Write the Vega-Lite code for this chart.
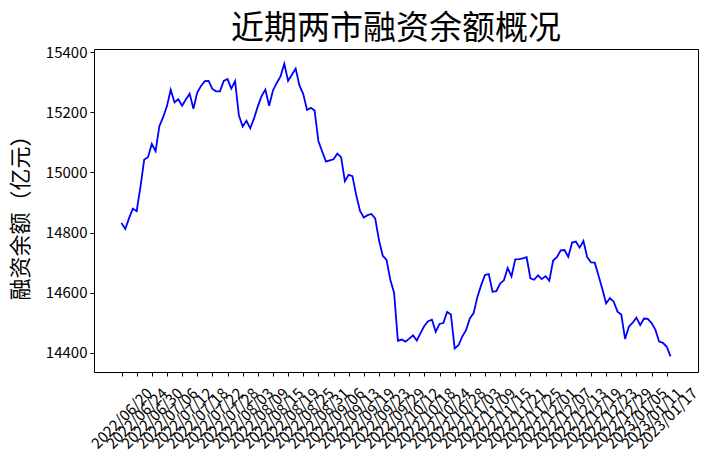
{
  "$schema": "https://vega.github.io/schema/vega-lite/v6.json",
  "width": 604,
  "height": 323,
  "autosize": {"type": "none"},
  "padding": {"left": 94, "top": 49, "right": 15, "bottom": 93},
  "background": "white",
  "title": {"text": "近期两市融资余额概况", "font": "Noto Sans CJK SC", "fontSize": 33, "fontWeight": "normal", "color": "black", "anchor": "middle", "offset": -1},
  "data": {"values": [
    {"date": "2022/06/20", "value": 14832},
    {"date": "2022/06/21", "value": 14812},
    {"date": "2022/06/22", "value": 14848},
    {"date": "2022/06/23", "value": 14880},
    {"date": "2022/06/24", "value": 14871},
    {"date": "2022/06/27", "value": 14951},
    {"date": "2022/06/28", "value": 15043},
    {"date": "2022/06/29", "value": 15051},
    {"date": "2022/06/30", "value": 15095},
    {"date": "2022/07/01", "value": 15071},
    {"date": "2022/07/04", "value": 15154},
    {"date": "2022/07/05", "value": 15184},
    {"date": "2022/07/06", "value": 15221},
    {"date": "2022/07/07", "value": 15275},
    {"date": "2022/07/08", "value": 15233},
    {"date": "2022/07/11", "value": 15244},
    {"date": "2022/07/12", "value": 15222},
    {"date": "2022/07/13", "value": 15243},
    {"date": "2022/07/14", "value": 15262},
    {"date": "2022/07/15", "value": 15212},
    {"date": "2022/07/18", "value": 15266},
    {"date": "2022/07/19", "value": 15288},
    {"date": "2022/07/20", "value": 15304},
    {"date": "2022/07/21", "value": 15305},
    {"date": "2022/07/22", "value": 15278},
    {"date": "2022/07/25", "value": 15270},
    {"date": "2022/07/26", "value": 15270},
    {"date": "2022/07/27", "value": 15305},
    {"date": "2022/07/28", "value": 15311},
    {"date": "2022/07/29", "value": 15279},
    {"date": "2022/08/01", "value": 15304},
    {"date": "2022/08/02", "value": 15190},
    {"date": "2022/08/03", "value": 15153},
    {"date": "2022/08/04", "value": 15172},
    {"date": "2022/08/05", "value": 15147},
    {"date": "2022/08/08", "value": 15180},
    {"date": "2022/08/09", "value": 15220},
    {"date": "2022/08/10", "value": 15254},
    {"date": "2022/08/11", "value": 15276},
    {"date": "2022/08/12", "value": 15222},
    {"date": "2022/08/15", "value": 15273},
    {"date": "2022/08/16", "value": 15298},
    {"date": "2022/08/17", "value": 15320},
    {"date": "2022/08/18", "value": 15362},
    {"date": "2022/08/19", "value": 15305},
    {"date": "2022/08/22", "value": 15325},
    {"date": "2022/08/23", "value": 15346},
    {"date": "2022/08/24", "value": 15290},
    {"date": "2022/08/25", "value": 15261},
    {"date": "2022/08/26", "value": 15208},
    {"date": "2022/08/29", "value": 15215},
    {"date": "2022/08/30", "value": 15206},
    {"date": "2022/08/31", "value": 15105},
    {"date": "2022/09/01", "value": 15070},
    {"date": "2022/09/02", "value": 15036},
    {"date": "2022/09/05", "value": 15040},
    {"date": "2022/09/06", "value": 15044},
    {"date": "2022/09/07", "value": 15063},
    {"date": "2022/09/08", "value": 15051},
    {"date": "2022/09/09", "value": 14971},
    {"date": "2022/09/13", "value": 14992},
    {"date": "2022/09/14", "value": 14988},
    {"date": "2022/09/15", "value": 14924},
    {"date": "2022/09/16", "value": 14872},
    {"date": "2022/09/19", "value": 14850},
    {"date": "2022/09/20", "value": 14858},
    {"date": "2022/09/21", "value": 14862},
    {"date": "2022/09/22", "value": 14847},
    {"date": "2022/09/23", "value": 14775},
    {"date": "2022/09/26", "value": 14723},
    {"date": "2022/09/27", "value": 14709},
    {"date": "2022/09/28", "value": 14643},
    {"date": "2022/09/29", "value": 14599},
    {"date": "2022/09/30", "value": 14440},
    {"date": "2022/10/10", "value": 14444},
    {"date": "2022/10/11", "value": 14437},
    {"date": "2022/10/12", "value": 14447},
    {"date": "2022/10/13", "value": 14458},
    {"date": "2022/10/14", "value": 14441},
    {"date": "2022/10/17", "value": 14466},
    {"date": "2022/10/18", "value": 14490},
    {"date": "2022/10/19", "value": 14505},
    {"date": "2022/10/20", "value": 14510},
    {"date": "2022/10/21", "value": 14470},
    {"date": "2022/10/24", "value": 14496},
    {"date": "2022/10/25", "value": 14499},
    {"date": "2022/10/26", "value": 14536},
    {"date": "2022/10/27", "value": 14527},
    {"date": "2022/10/28", "value": 14414},
    {"date": "2022/10/31", "value": 14425},
    {"date": "2022/11/01", "value": 14454},
    {"date": "2022/11/02", "value": 14475},
    {"date": "2022/11/03", "value": 14514},
    {"date": "2022/11/04", "value": 14532},
    {"date": "2022/11/07", "value": 14586},
    {"date": "2022/11/08", "value": 14625},
    {"date": "2022/11/09", "value": 14659},
    {"date": "2022/11/10", "value": 14662},
    {"date": "2022/11/11", "value": 14603},
    {"date": "2022/11/14", "value": 14605},
    {"date": "2022/11/15", "value": 14630},
    {"date": "2022/11/16", "value": 14641},
    {"date": "2022/11/17", "value": 14682},
    {"date": "2022/11/18", "value": 14654},
    {"date": "2022/11/21", "value": 14711},
    {"date": "2022/11/22", "value": 14712},
    {"date": "2022/11/23", "value": 14714},
    {"date": "2022/11/24", "value": 14718},
    {"date": "2022/11/25", "value": 14648},
    {"date": "2022/11/28", "value": 14643},
    {"date": "2022/11/29", "value": 14658},
    {"date": "2022/11/30", "value": 14645},
    {"date": "2022/12/01", "value": 14655},
    {"date": "2022/12/02", "value": 14640},
    {"date": "2022/12/05", "value": 14707},
    {"date": "2022/12/06", "value": 14718},
    {"date": "2022/12/07", "value": 14741},
    {"date": "2022/12/08", "value": 14742},
    {"date": "2022/12/09", "value": 14719},
    {"date": "2022/12/12", "value": 14767},
    {"date": "2022/12/13", "value": 14770},
    {"date": "2022/12/14", "value": 14750},
    {"date": "2022/12/15", "value": 14772},
    {"date": "2022/12/16", "value": 14718},
    {"date": "2022/12/19", "value": 14701},
    {"date": "2022/12/20", "value": 14700},
    {"date": "2022/12/21", "value": 14656},
    {"date": "2022/12/22", "value": 14612},
    {"date": "2022/12/23", "value": 14564},
    {"date": "2022/12/26", "value": 14582},
    {"date": "2022/12/27", "value": 14570},
    {"date": "2022/12/28", "value": 14537},
    {"date": "2022/12/29", "value": 14527},
    {"date": "2022/12/30", "value": 14446},
    {"date": "2023/01/03", "value": 14487},
    {"date": "2023/01/04", "value": 14500},
    {"date": "2023/01/05", "value": 14517},
    {"date": "2023/01/06", "value": 14492},
    {"date": "2023/01/09", "value": 14514},
    {"date": "2023/01/10", "value": 14513},
    {"date": "2023/01/11", "value": 14499},
    {"date": "2023/01/12", "value": 14477},
    {"date": "2023/01/13", "value": 14437},
    {"date": "2023/01/16", "value": 14433},
    {"date": "2023/01/17", "value": 14420},
    {"date": "2023/01/18", "value": 14388}
  ]},
  "mark": {"type": "line", "color": "#0000ff", "strokeWidth": 1.8},
  "encoding": {
    "x": {
      "field": "date",
      "type": "ordinal",
      "scale": {"type": "point", "padding": 0, "range": [27.5, 576.5]},
      "axis": {
        "title": null,
        "values": ["2022/06/20","2022/06/24","2022/06/30","2022/07/06","2022/07/12","2022/07/18","2022/07/22","2022/07/28","2022/08/03","2022/08/09","2022/08/15","2022/08/19","2022/08/25","2022/08/31","2022/09/06","2022/09/13","2022/09/19","2022/09/23","2022/09/29","2022/10/12","2022/10/18","2022/10/24","2022/10/28","2022/11/03","2022/11/09","2022/11/15","2022/11/21","2022/11/25","2022/12/01","2022/12/07","2022/12/13","2022/12/19","2022/12/23","2022/12/29","2023/01/05","2023/01/11","2023/01/17"],
        "labelAngle": -45,
        "labelAlign": "center",
        "labelBaseline": "middle",
        "labelPadding": 42,
        "labelFont": "Noto Sans CJK SC",
        "labelFontSize": 15,
        "labelColor": "black",
        "labelOverlap": false,
        "labelFlush": false,
        "labelBound": false,
        "tickSize": 4,
        "tickColor": "black",
        "tickWidth": 1,
        "domain": false,
        "grid": false
      }
    },
    "y": {
      "field": "value",
      "type": "quantitative",
      "scale": {"domain": [14336, 15411], "nice": false, "zero": false},
      "axis": {
        "values": [14400, 14600, 14800, 15000, 15200, 15400],
        "format": "d",
        "title": "融资余额（亿元）",
        "titleFont": "Noto Sans CJK SC",
        "titleFontSize": 22,
        "titleFontWeight": "normal",
        "titleColor": "black",
        "titleAngle": -90,
        "titleAlign": "center",
        "titleBaseline": "middle",
        "titleX": -74,
        "titleY": 163,
        "labelFont": "Noto Sans CJK SC",
        "labelFontSize": 15,
        "labelColor": "black",
        "labelPadding": 3,
        "tickSize": 4,
        "tickColor": "black",
        "tickWidth": 1,
        "domain": false,
        "grid": false
      }
    }
  },
  "config": {"view": {"stroke": "black", "strokeWidth": 1}}
}
